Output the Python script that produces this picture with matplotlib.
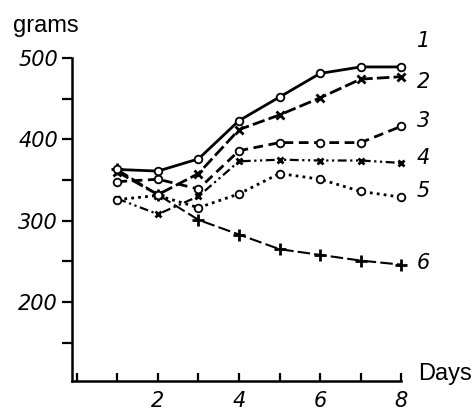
import matplotlib
matplotlib.use("Agg")
import matplotlib.pyplot as plt
from matplotlib.ticker import MultipleLocator

days = [1, 2, 3, 4, 5, 6, 7, 8]
s1 = [363, 361, 376, 423, 452, 481, 489, 489]
s2 = [360, 332, 358, 412, 430, 451, 474, 477]
s3 = [348, 351, 339, 386, 396, 396, 396, 416]
s4 = [327, 308, 330, 373, 375, 374, 374, 371]
s5 = [326, 331, 316, 333, 358, 351, 336, 329]
s6 = [363, 332, 301, 283, 265, 258, 251, 246]
series_labels = ["1", "2", "3", "4", "5", "6"]
x_ticks = [2, 4, 6, 8]
y_ticks = [200, 300, 400, 500]

fig = plt.figure(figsize=(4.77, 4.13), dpi=100)
ax = fig.add_axes([0.151, 0.0775, 0.690, 0.7821])
ax.set_xlim(-0.12, 8)
ax.set_ylim(103, 500)

num_font = dict(family="DejaVu Sans", style="italic", fontsize=15)

series = [
    (s6, dict(linestyle=(0, (6, 2)), lw=1.5, marker="+", ms=8, mew=2.0), 3),
    (s4, dict(linestyle=(0, (4, 1.6, 1, 1.6, 1, 1.6)), lw=1.6, marker="x", ms=5, mew=2.0), 3),
    (s2, dict(linestyle=(0, (4.5, 1.5)), lw=2.0, marker="x", ms=5.5, mew=2.0), 3),
    (s5, dict(linestyle=(0, (1, 1.5)), lw=2.0, marker="o", mfc="white", ms=5.5, mew=1.3), 4),
    (s3, dict(linestyle=(0, (3.5, 2)), lw=2.0, marker="o", mfc="white", ms=5.5, mew=1.3), 4),
    (s1, dict(linestyle="-", lw=2.0, marker="o", mfc="white", ms=5.5, mew=1.3), 4),
]
for vals, kw, z in series:
    ax.plot(days, vals, color="black", clip_on=False, zorder=z, **kw)

label_y = [521, 471, 423, 377, 336, 248]
for lab, yv in zip(series_labels, label_y):
    ax.text(8.38, yv, lab, ha="left", va="center", **num_font)

for side in ["top", "right"]:
    ax.spines[side].set_visible(False)
for side in ["left", "bottom"]:
    ax.spines[side].set_linewidth(1.8)

ax.set_yticks(y_ticks)
ax.yaxis.set_minor_locator(MultipleLocator(50))
ax.set_xticks(x_ticks)
ax.xaxis.set_minor_locator(MultipleLocator(1))
ax.tick_params(axis="y", which="both", direction="out", length=7, width=1.6, pad=3)
ax.tick_params(axis="x", which="both", direction="in", length=6, width=1.6, pad=7)
for t in ax.get_yticklabels() + ax.get_xticklabels():
    t.set_fontfamily("DejaVu Sans")
    t.set_fontstyle("italic")
    t.set_fontsize(15)

fig.text(13 / 477, 1 - 26 / 413, "grams", family="Liberation Sans", fontsize=17,
         ha="left", va="center")
fig.text(418 / 477, 1 - 374 / 413, "Days", family="Liberation Sans", fontsize=17,
         ha="left", va="center")

fig.savefig("out.png", dpi=100)
